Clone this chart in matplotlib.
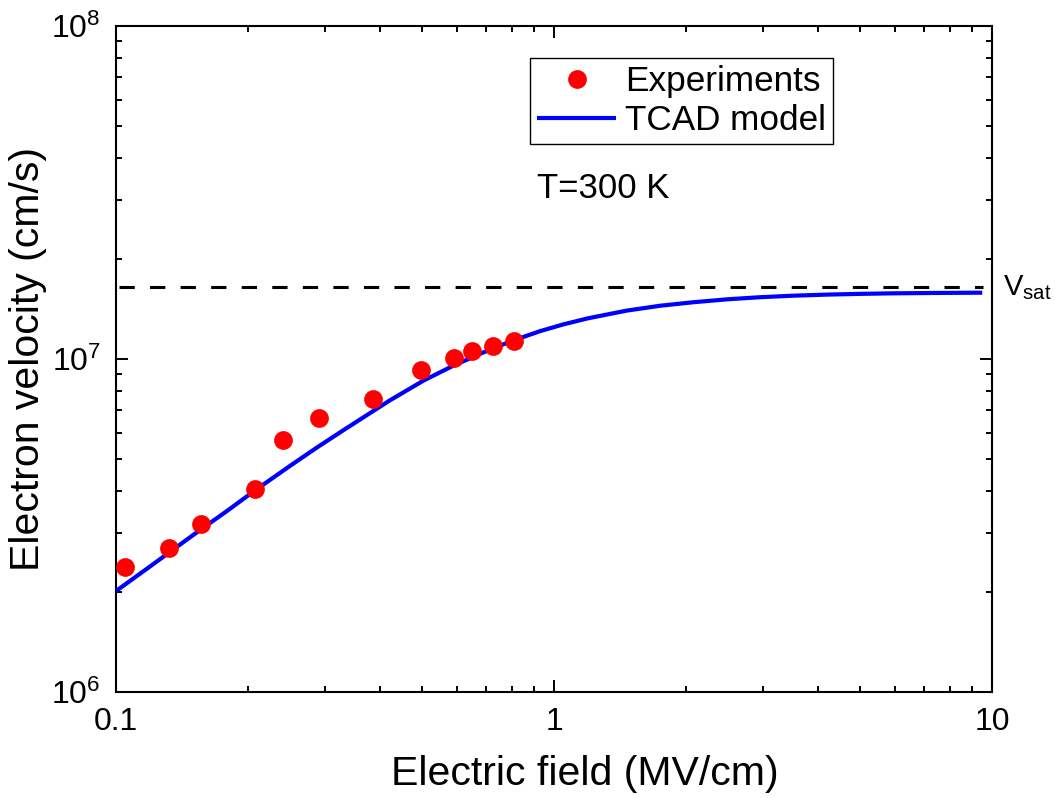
import matplotlib
matplotlib.use("Agg")
import matplotlib.pyplot as plt
from matplotlib.ticker import LogLocator, FixedLocator, FixedFormatter, NullFormatter
import matplotlib.transforms as mtransforms

plt.rcParams['font.family'] = ['Liberation Sans', 'DejaVu Sans']
plt.rcParams['mathtext.fontset'] = 'custom'
plt.rcParams['mathtext.rm'] = 'Liberation Sans'
plt.rcParams['mathtext.it'] = 'Liberation Sans'
plt.rcParams['mathtext.default'] = 'regular'

# Experimental data (electric field in MV/cm, velocity in cm/s)
exp_field = [0.1048, 0.1324, 0.156, 0.2077, 0.241, 0.2912, 0.3855, 0.4963, 0.592, 0.651, 0.7244, 0.8105]
exp_vel = [2.376e6, 2.70e6, 3.19e6, 4.06e6, 5.72e6, 6.66e6, 7.60e6, 9.28e6, 1.008e7, 1.056e7, 1.09e7, 1.128e7]

# TCAD model curve
tcad_field = [0.10, 0.12, 0.15, 0.18, 0.2077, 0.25, 0.287, 0.33, 0.357, 0.42, 0.503, 0.59,
              0.69, 0.80, 0.929, 1.05, 1.197, 1.466, 1.75, 2.08, 2.5, 2.95, 3.5, 4.19,
              5.0, 5.96, 7.5, 9.5]
tcad_vel = [2.01e6, 2.39e6, 2.96e6, 3.51e6, 4.03e6, 4.78e6, 5.41e6, 6.10e6, 6.52e6, 7.48e6,
            8.6e6, 9.55e6, 1.046e7, 1.131e7, 1.211e7, 1.269e7, 1.324e7, 1.396e7, 1.444e7,
            1.479e7, 1.51e7, 1.531e7, 1.547e7, 1.559e7, 1.567e7, 1.573e7, 1.577e7, 1.58e7]

v_sat = 1.64e7

x_ticks = [0.1, 1, 10]
x_ticklabels = ['0.1', '1', '10']

fig = plt.figure(figsize=(10.55, 7.98), dpi=100)
ax = fig.add_axes([0.110, 0.1328, 0.8303, 0.835])

ax.set_xscale('log')
ax.set_yscale('log')
ax.set_xlim(0.1, 10)
ax.set_ylim(1e6, 1e8)

ax.axhline(v_sat, color='black', lw=2.2, linestyle=(0, (5, 5)), xmin=0.003, xmax=0.99)
ax.plot(tcad_field, tcad_vel, color='#0000ff', lw=3.0, solid_joinstyle='round',
        solid_capstyle='butt', label='TCAD model', zorder=3)
ax.plot(exp_field, exp_vel, 'o', color='#ff0000', markersize=13.5, markeredgewidth=0,
        label='Experiments', zorder=4)

ax.xaxis.set_major_locator(FixedLocator(x_ticks))
ax.xaxis.set_major_formatter(FixedFormatter(x_ticklabels))
ax.xaxis.set_minor_locator(LogLocator(base=10, subs=range(2, 10)))
ax.xaxis.set_minor_formatter(NullFormatter())
ax.yaxis.set_major_locator(LogLocator(base=10, numticks=10))
ax.yaxis.set_minor_locator(LogLocator(base=10, subs=range(2, 10), numticks=10))
ax.yaxis.set_minor_formatter(NullFormatter())

ax.tick_params(which='both', direction='in', top=True, right=True, width=1.4, colors='black')
ax.tick_params(which='major', length=8.5, labelsize=23, pad=11)
ax.tick_params(which='minor', length=4.5)
for s in ax.spines.values():
    s.set_linewidth(1.5)

ax.set_xlabel('Electric field (MV/cm)', fontsize=29.5)
ax.xaxis.set_label_coords(0.535, -0.095)
ax.set_ylabel('Electron velocity (cm/s)', fontsize=29.5, labelpad=3)

handles, labels = ax.get_legend_handles_labels()
order = [1, 0]
leg = ax.legend([handles[i] for i in order], [labels[i] for i in order],
                loc='upper left', bbox_to_anchor=(530 / 1055, 1 - 58 / 798),
                bbox_transform=fig.transFigure, fontsize=25.3, frameon=True,
                fancybox=False, edgecolor='black', framealpha=1, borderpad=0.2,
                labelspacing=0.17, handlelength=2.25, handletextpad=0.25,
                borderaxespad=0, markerscale=1.0)
leg.get_frame().set_linewidth(1.0)

fig.text(537 / 1055, 1 - 198 / 798, 'T=300 K', fontsize=25, ha='left', va='baseline')

trans = mtransforms.blended_transform_factory(ax.transAxes, ax.transData)
ax.text(1.012, v_sat, r'$\mathregular{V_{sat}}$', transform=trans, fontsize=21,
        ha='left', va='center', clip_on=False)

fig.savefig('out.png', dpi=100)
